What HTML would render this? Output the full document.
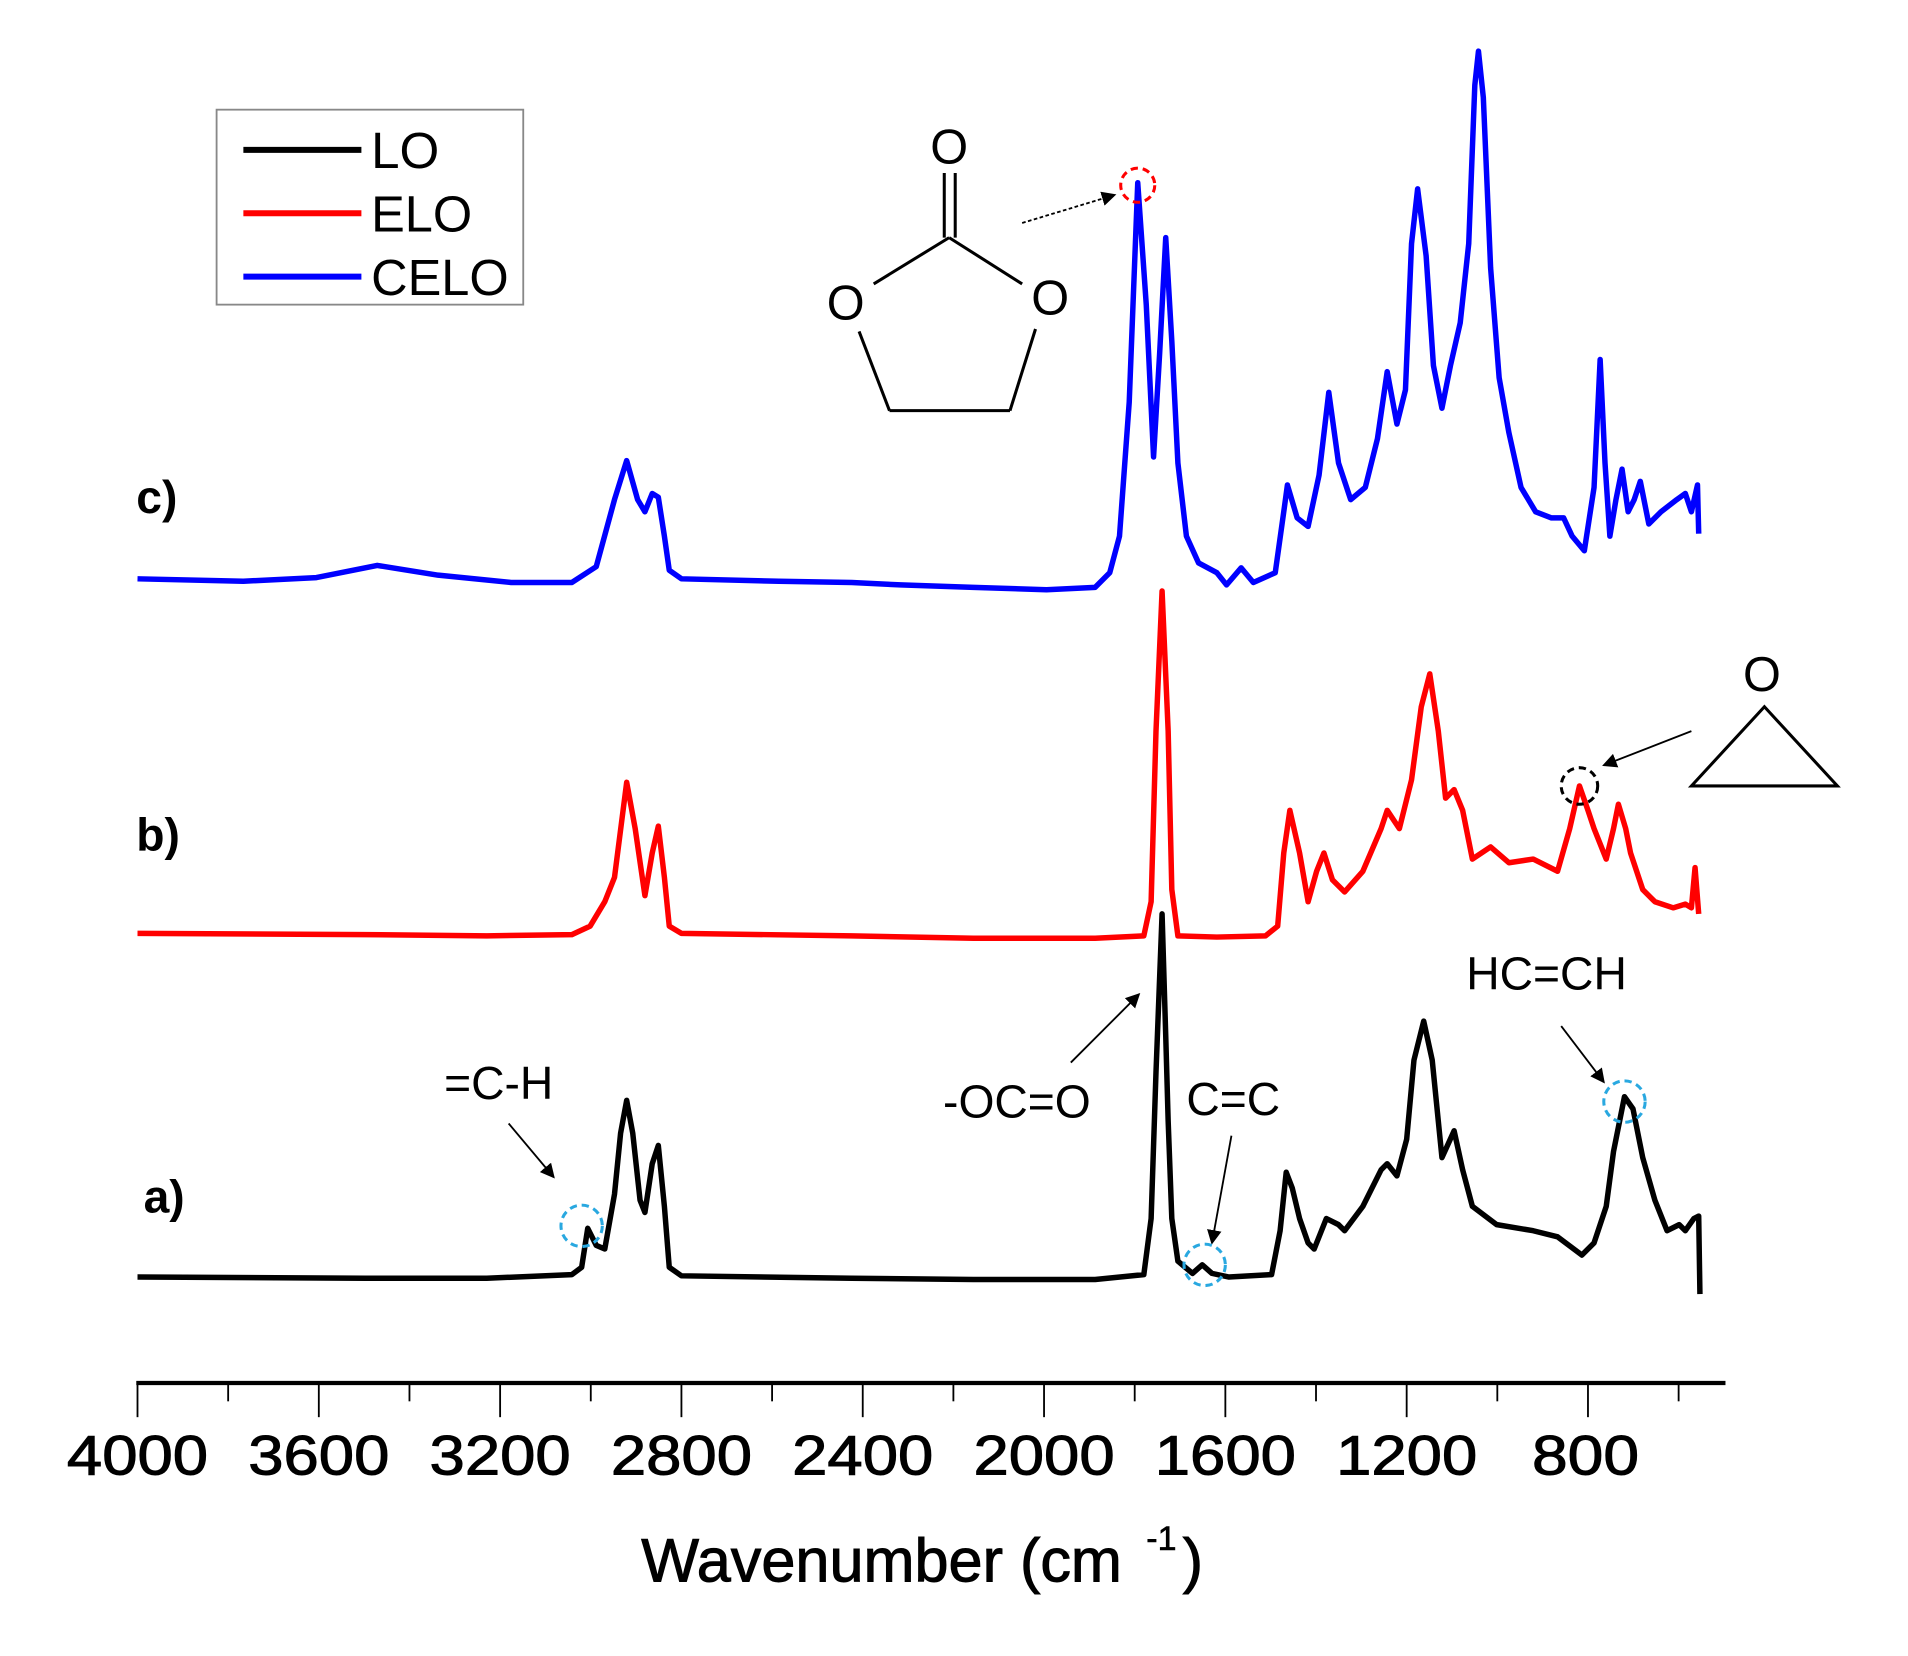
<!DOCTYPE html>
<html><head><meta charset="utf-8"><style>html,body{margin:0;padding:0;background:#fff}svg{display:block}</style></head>
<body>
<svg width="1908" height="1656" viewBox="0 0 1568 1359" preserveAspectRatio="none" font-family="Liberation Sans, sans-serif">
<rect width="1568" height="1359" fill="#fff"/>
<!-- axis -->
<line x1="112" y1="1135" x2="1418" y2="1135" stroke="#000" stroke-width="3.5"/>
<g stroke="#000" stroke-width="1.5">
<line x1="113" y1="1135" x2="113" y2="1163"/><line x1="187.5" y1="1135" x2="187.5" y2="1150"/>
<line x1="262" y1="1135" x2="262" y2="1163"/><line x1="336.5" y1="1135" x2="336.5" y2="1150"/>
<line x1="411" y1="1135" x2="411" y2="1163"/><line x1="485.5" y1="1135" x2="485.5" y2="1150"/>
<line x1="560" y1="1135" x2="560" y2="1163"/><line x1="634.5" y1="1135" x2="634.5" y2="1150"/>
<line x1="709" y1="1135" x2="709" y2="1163"/><line x1="783.5" y1="1135" x2="783.5" y2="1150"/>
<line x1="858" y1="1135" x2="858" y2="1163"/><line x1="932.5" y1="1135" x2="932.5" y2="1150"/>
<line x1="1007" y1="1135" x2="1007" y2="1163"/><line x1="1081.5" y1="1135" x2="1081.5" y2="1150"/>
<line x1="1156" y1="1135" x2="1156" y2="1163"/><line x1="1230.5" y1="1135" x2="1230.5" y2="1150"/>
<line x1="1305" y1="1135" x2="1305" y2="1163"/><line x1="1379.5" y1="1135" x2="1379.5" y2="1150"/>
</g>
<g font-size="46" text-anchor="middle" fill="#000" stroke="#000" stroke-width="0.8">
<text x="113" y="1210" textLength="116" lengthAdjust="spacingAndGlyphs">4000</text>
<text x="262" y="1210" textLength="116" lengthAdjust="spacingAndGlyphs">3600</text>
<text x="411" y="1210" textLength="116" lengthAdjust="spacingAndGlyphs">3200</text>
<text x="560" y="1210" textLength="116" lengthAdjust="spacingAndGlyphs">2800</text>
<text x="709" y="1210" textLength="116" lengthAdjust="spacingAndGlyphs">2400</text>
<text x="858" y="1210" textLength="116" lengthAdjust="spacingAndGlyphs">2000</text>
<text x="1007" y="1210" textLength="116" lengthAdjust="spacingAndGlyphs">1600</text>
<text x="1156" y="1210" textLength="116" lengthAdjust="spacingAndGlyphs">1200</text>
<text x="1303" y="1210" textLength="88" lengthAdjust="spacingAndGlyphs">800</text>
</g>
<text x="527" y="1298" font-size="50" stroke="#000" stroke-width="0.8" textLength="395" lengthAdjust="spacingAndGlyphs">Wavenumber (cm</text>
<text x="942" y="1272" font-size="28" stroke="#000" stroke-width="0.5">-1</text>
<text x="972" y="1298" font-size="50" stroke="#000" stroke-width="0.8">)</text>
<!-- legend -->
<rect x="178" y="90" width="252" height="160" fill="#fff" stroke="#888" stroke-width="1.5"/>
<line x1="200" y1="123" x2="297" y2="123" stroke="#000" stroke-width="5"/>
<line x1="200" y1="175" x2="297" y2="175" stroke="#f00" stroke-width="5"/>
<line x1="200" y1="227" x2="297" y2="227" stroke="#00f" stroke-width="5"/>
<g font-size="42"><text x="305" y="138" textLength="56" lengthAdjust="spacingAndGlyphs">LO</text><text x="305" y="190" textLength="83" lengthAdjust="spacingAndGlyphs">ELO</text><text x="305" y="242" textLength="113" lengthAdjust="spacingAndGlyphs">CELO</text></g>
<!-- series -->
<g fill="none" stroke-width="4.5" stroke-linejoin="round">
<polyline stroke="#00f" points="113,475 200,477 260,474 310,464 360,472 420,478 470,478 490,465 505,410 515,378 524,410 530,420 536,405 541,408 546,440 550,468 560,475 640,477 700,478 740,480 800,482 860,484 900,482 912,470 920,440 928,330 935,150 942,250 948,375 953,290 958,195 963,280 968,380 975,440 985,462 1000,470 1008,480 1020,466 1030,478 1048,470 1055,420 1058,398 1066,425 1075,432 1084,390 1092,322 1100,380 1110,410 1122,400 1132,360 1140,305 1148,348 1155,320 1160,200 1165,155 1172,210 1178,300 1185,335 1192,300 1200,265 1207,200 1212,70 1215,42 1219,80 1225,220 1232,310 1240,355 1250,400 1262,420 1275,425 1285,425 1292,440 1302,452 1310,400 1315,295 1319,380 1323,440 1328,410 1333,385 1338,420 1343,410 1348,395 1355,430 1365,420 1378,410 1385,405 1390,420 1395,398 1396,438"/>
<polyline stroke="#f00" points="113,766 300,767 400,768 470,767 485,760 497,740 505,720 515,642 522,680 530,735 536,700 541,678 546,720 550,760 560,766 700,768 800,770 900,770 940,768 946,740 950,600 955,485 960,600 963,730 968,768 1000,769 1040,768 1050,760 1055,700 1060,665 1068,700 1075,740 1082,715 1088,700 1095,722 1105,732 1120,715 1135,680 1140,665 1150,680 1160,640 1168,580 1175,553 1182,600 1188,655 1195,648 1202,665 1210,705 1225,695 1240,708 1260,705 1280,715 1290,680 1298,645 1305,665 1310,680 1320,705 1326,680 1330,660 1336,680 1340,700 1350,730 1360,740 1375,745 1385,742 1390,745 1393,712 1396,750"/>
<polyline stroke="#000" points="113,1048 300,1049 400,1049 470,1046 478,1040 483,1008 490,1022 497,1025 505,980 510,930 515,903 520,930 526,985 530,995 536,955 541,940 546,990 550,1040 560,1047 700,1049 800,1050 900,1050 940,1046 946,1000 950,880 955,750 958,850 960,920 963,1000 968,1035 980,1045 988,1038 996,1045 1010,1048 1045,1046 1052,1010 1057,962 1062,975 1068,1000 1075,1020 1080,1025 1090,1000 1100,1005 1105,1010 1120,990 1135,960 1140,955 1148,965 1156,935 1162,870 1170,838 1177,870 1185,950 1195,928 1202,960 1210,990 1230,1005 1260,1010 1280,1015 1300,1030 1310,1020 1320,990 1326,945 1335,900 1342,910 1350,950 1360,985 1370,1010 1380,1005 1385,1010 1392,1000 1396,998 1397,1062"/>
</g>
<!-- labels -->
<g font-size="38" font-weight="bold"><text x="112" y="421">c)</text><text x="112" y="698">b)</text><text x="118" y="995">a)</text></g>
<g font-size="38">
<text x="365" y="902">=C-H</text><text x="775" y="917">-OC=O</text><text x="975" y="915">C=C</text><text x="1205" y="812">HC=CH</text>
</g>
<defs><marker id="ah" markerWidth="8" markerHeight="8" refX="7" refY="4" orient="auto"><path d="M0,0 L8,4 L0,8 z" fill="#000"/></marker></defs>
<g stroke="#000" stroke-width="1.5" fill="none">
<line x1="418" y1="922" x2="455" y2="966" marker-end="url(#ah)"/>
<line x1="880" y1="872" x2="936" y2="816" marker-end="url(#ah)"/>
<line x1="1012" y1="932" x2="996" y2="1020" marker-end="url(#ah)"/>
<line x1="1283" y1="842" x2="1318" y2="888" marker-end="url(#ah)"/>
<line x1="840" y1="183" x2="916" y2="160" stroke-dasharray="3,2" marker-end="url(#ah)"/>
<line x1="1390" y1="600" x2="1318" y2="628" marker-end="url(#ah)"/>
</g>
<g fill="none" stroke-width="2.5" stroke-dasharray="6,4">
<circle cx="478" cy="1006" r="17" stroke="#29a8e0"/>
<circle cx="990" cy="1038" r="17" stroke="#29a8e0"/>
<circle cx="1335" cy="904" r="17" stroke="#29a8e0"/>
<circle cx="935" cy="152" r="14" stroke="#f00"/>
<circle cx="1298" cy="645" r="15" stroke="#000"/>
</g>
<!-- epoxide -->
<polygon points="1390,645 1510,645 1450,580" fill="none" stroke="#000" stroke-width="2.5"/>
<rect x="1430" y="534" width="40" height="40" fill="#fff"/>
<text x="1448" y="567" font-size="40" text-anchor="middle">O</text>
<!-- carbonate -->
<g stroke="#000" stroke-width="2.5" fill="none">
<line x1="776" y1="142" x2="776" y2="195"/><line x1="785" y1="142" x2="785" y2="195"/>
<line x1="780" y1="195" x2="718" y2="233"/><line x1="780" y1="195" x2="840" y2="233"/>
<line x1="706" y1="272" x2="731" y2="337"/><line x1="851" y1="270" x2="830" y2="337"/>
<line x1="731" y1="337" x2="830" y2="337"/>
</g>
<g font-size="40" text-anchor="middle"><text x="780" y="134">O</text><text x="695" y="262">O</text><text x="863" y="258">O</text></g>
</svg>
</body></html>
